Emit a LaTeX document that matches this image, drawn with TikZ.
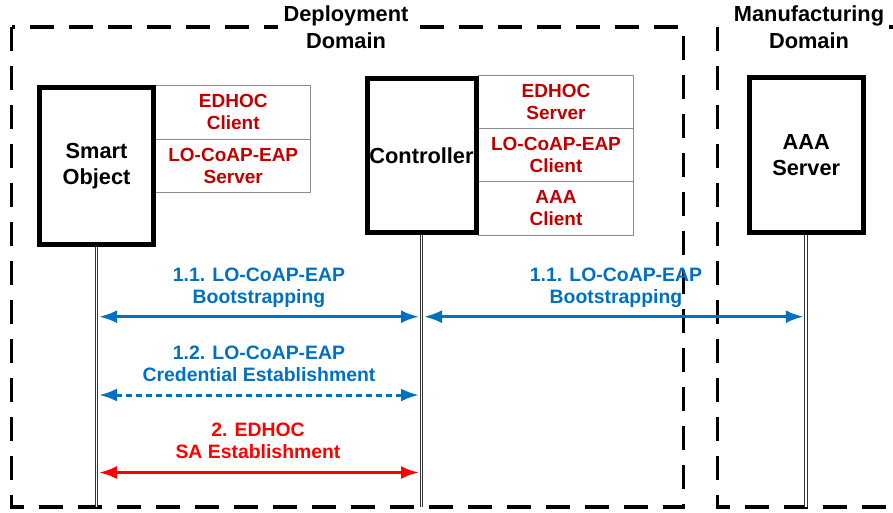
\documentclass[tikz,border=0pt]{standalone}
\usepackage{fontspec}
\setmainfont{Liberation Sans}
\usetikzlibrary{arrows.meta,positioning}

\definecolor{msgblue}{HTML}{0070C0}
\definecolor{msgred}{HTML}{FF0000}
\definecolor{rolered}{HTML}{C00000}

\begin{document}
\begin{tikzpicture}[
            x=1pt,y=-1pt,
            font=\bfseries,
            domainbox/.style={draw,line width=3.5pt,dash pattern=on 24pt off 15pt},
            dlab/.style={fill=white,align=center,inner xsep=6pt,inner ysep=1pt,font=\fontsize{21.8}{26.6}\selectfont\bfseries},
            entity/.style={draw,fill=white,line width=5pt,inner sep=0,align=center,font=\fontsize{21.8}{26}\selectfont\bfseries},
            role/.style={draw=black!45,line width=.8pt,minimum width=155,minimum height=53.3,inner sep=0,outer sep=0,align=center,text=rolered,font=\fontsize{19}{22}\selectfont\bfseries},
            lifeline/.style={draw=black!80,line width=.9pt,double=white,double distance=1.8pt},
            lab/.style={align=center,font=\fontsize{19.4}{22}\selectfont\bfseries},
            msg/.style={line width=3pt,{Latex[length=18pt,width=13pt]}-{Latex[length=18pt,width=13pt]},shorten <=2.5pt,shorten >=2.5pt}
          ]
          \clip (0,0) rectangle (893,512);

          %domains
          \draw[domainbox] (11.5,27) rectangle (683.5,507);
          \draw[domainbox] (717.5,27) rectangle (920,507);
          \node[dlab] (deploy) at (346,27) {Deployment\\Domain};
          \node[dlab,inner xsep=2pt] (manuf) at (809,27) {Manufacturing\\Domain};

          %roles
          \node[role,anchor=north west] (so1) at (155.75,85.7) {EDHOC\\Client};
          \node[role,below=0pt of so1] (so2) {LO-CoAP-EAP\\Server};
          \node[role,anchor=north west] (ct1) at (478.5,75) {EDHOC\\Server};
          \node[role,below=0pt of ct1] (ct2) {LO-CoAP-EAP\\Client};
          \node[role,below=0pt of ct2] (ct3) {AAA\\Client};

          %entities
          \node[entity,minimum width=113.5,minimum height=156.5] (so) at (96.5,165.75) {Smart\\Object};
          \node[entity,minimum width=109,minimum height=154] (ctrl) at (421.5,155.5) {Controller};
          \node[entity,minimum width=114.5,minimum height=155] (aaa) at (806.25,155) {AAA\\Server};

          %lifelines
          \coordinate (floor) at (0,507);
          \path[lifeline] (so.south) -- (so.south |- floor);
          \path[lifeline] (ctrl.south) -- (ctrl.south |- floor);
          \path[lifeline] (aaa.south) -- (aaa.south |- floor);

          %messages
          \coordinate (m1) at (0,316.7);
          \coordinate (m2) at (0,395);
          \coordinate (m3) at (0,472.5);
          \draw[msg,msgblue] (so.south |- m1) -- (ctrl.south |- m1);
          \draw[msg,msgblue] (ctrl.south |- m1) -- (aaa.south |- m1);
          \draw[msg,msgblue,dash pattern=on 6pt off 4pt] (so.south |- m2) -- (ctrl.south |- m2);
          \draw[msg,msgred] (so.south |- m3) -- (ctrl.south |- m3);

          %labels
          \node[lab,text=msgblue] (l11) at (259,287.5) {1.1. LO-CoAP-EAP\\Bootstrapping};
          \node[lab,text=msgblue] (l11b) at (616,287.5) {1.1. LO-CoAP-EAP\\Bootstrapping};
          \node[lab,text=msgblue] (l12) at (259,363.9) {1.2. LO-CoAP-EAP\\Credential Establishment};
          \node[lab,text=msgred] (l2) at (258,440.6) {2. EDHOC\\SA Establishment};

      \end{tikzpicture}
\end{document}
